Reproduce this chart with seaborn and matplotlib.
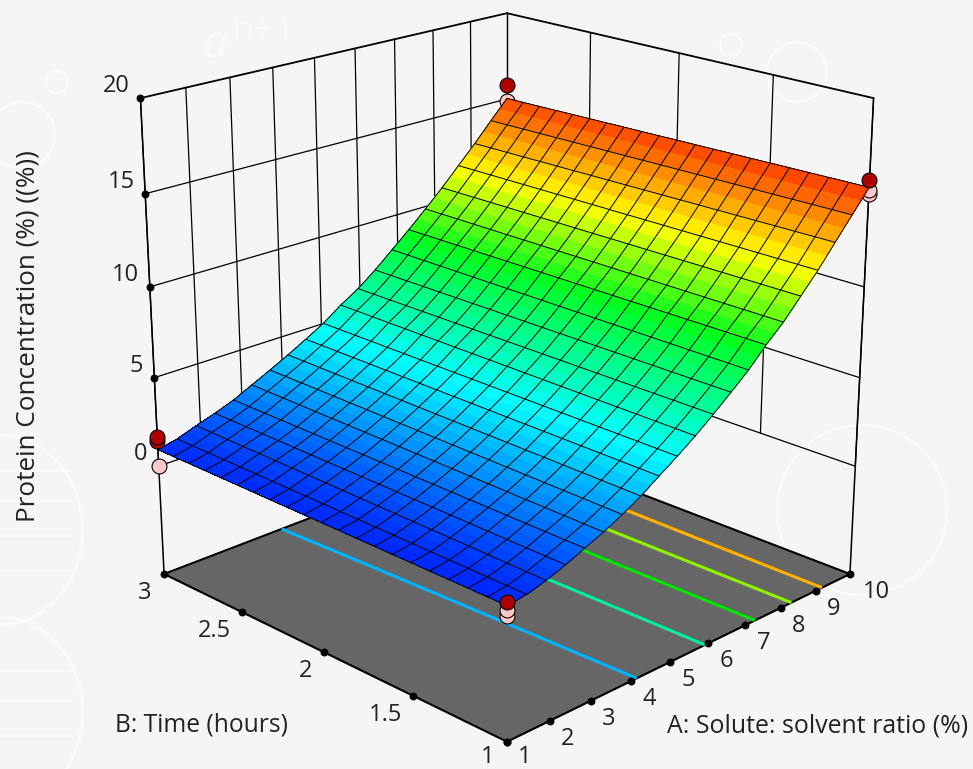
import numpy as np
import matplotlib
matplotlib.use("Agg")
import matplotlib.pyplot as plt
import seaborn as sns
from matplotlib.colors import LinearSegmentedColormap
from matplotlib.patches import Circle, Ellipse
from mpl_toolkits.mplot3d import proj3d

# surface heights read along the two long edges, one value per half mesh cell
z_b1 = [0.83, 0.88, 0.96, 1.09, 1.24, 1.42, 1.61, 1.82, 2.04, 2.25, 2.46, 2.70, 2.96, 3.23,
        3.52, 3.84, 4.17, 4.49, 4.82, 5.16, 5.51, 5.88, 6.27, 6.66, 7.07, 7.47, 7.89, 8.37,
        8.87, 9.30, 9.74, 10.26, 10.79, 11.31, 11.84, 12.42, 13.01, 13.59, 14.17, 14.75, 15.34]
z_b3 = [0.95, 1.06, 1.18, 1.37, 1.56, 1.73, 1.90, 2.10, 2.30, 2.55, 2.81, 3.06, 3.32, 3.58,
        3.85, 4.13, 4.42, 4.71, 5.01, 5.37, 5.75, 6.06, 6.39, 6.77, 7.17, 7.60, 8.05, 8.48,
        8.93, 9.39, 9.86, 10.33, 10.82, 11.33, 11.85, 12.36, 12.88, 13.42, 13.97, 14.50, 15.03]

a_ticks = [1, 2, 3, 4, 5, 6, 7, 8, 9, 10]
b_ticks = [1, 1.5, 2, 2.5, 3]
b_labels = ['1', '1.5', '2', '2.5', '3']
z_ticks = [0, 5, 10, 15, 20]
z_floor = -6.26

contour_levels = [3.5, 6.2, 8.8, 11.0, 13.2]
contour_colors = ['#00b4ff', '#00f0a0', '#00e600', '#90f000', '#ffb000']

# design points: above the surface (red) and below it (pink)
red_a = [1, 1, 10, 10, 1]
red_b = [3, 3, 3, 1, 1]
red_z = [1.65, 1.43, 15.85, 15.7, 1.0]
pink_a = [1, 10, 10, 10, 1, 1]
pink_b = [3, 3, 1, 1, 1, 1]
pink_z = [0.0, 14.85, 15.2, 15.0, 0.6, 0.3]

sns.set_theme(style="white")
plt.rcParams['font.family'] = ['Open Sans', 'DejaVu Sans']
text_color = '#222222'
fs = 17

fig = plt.figure(figsize=(9.73, 7.69), dpi=100)
fig.patch.set_facecolor('#f5f5f5')

# faint white doodles of the slide background
bg = fig.add_axes([0, 0, 1, 1])
bg.set_xlim(0, 973)
bg.set_ylim(769, 0)
bg.axis('off')
for cx, cy, r in [(22, 135, 33), (57, 82, 11), (797, 72, 30), (731, 45, 11), (862, 510, 85)]:
    bg.add_patch(Circle((cx, cy), r, fill=False, ec='white', lw=2, alpha=0.55))
for cy in [530, 712]:
    bg.add_patch(Ellipse((0, cy), 165, 190, fill=False, ec='white', lw=2.5, alpha=0.55))
for y in [470, 500, 535, 570, 670, 700, 735]:
    bg.plot([0, 72], [y, y], color='white', lw=2, alpha=0.45)
bg.text(215, 45, 'a', color='white', fontsize=34, style='italic', ha='center', va='center', alpha=0.5)
bg.text(232, 32, 'n+1', color='white', fontsize=26, ha='left', va='center', alpha=0.5)

ax = fig.add_axes([(507 - 0.5135 * 846) / 973, (425 - 0.5135 * 846) / 769, 846 / 973, 846 / 769],
                  projection='3d')
ax.set_box_aspect((1, 1, 1.012), zoom=1)
ax.set_proj_type('persp', focal_length=0.58)
ax.view_init(elev=20.4, azim=-135)
ax.set_xlim(1, 10, view_margin=0)
ax.set_ylim(1, 3, view_margin=0)
ax.set_zlim(z_floor, 20, view_margin=0)
ax.set_axis_off()
ax.patch.set_alpha(0)
ax.computed_zorder = False

# wall grid
for z in z_ticks:
    lw = 1.3 if z == 20 else 0.9
    ax.plot([1, 10], [3, 3], [z, z], color='black', lw=lw, zorder=1)
    ax.plot([10, 10], [3, 1], [z, z], color='black', lw=lw, zorder=1)
for a in a_ticks:
    ax.plot([a, a], [3, 3], [z_ticks[0], z_ticks[-1]], color='black', lw=0.9, zorder=1)
for b in b_ticks:
    ax.plot([10, 10], [b, b], [z_ticks[0], z_ticks[-1]], color='black', lw=0.9, zorder=1)
ax.plot([1, 1], [3, 3], [z_floor, 20], color='black', lw=1.1, zorder=1)
ax.plot([10, 10], [1, 1], [z_floor, 20], color='black', lw=1.1, zorder=1)

# floor
fa, fb = np.meshgrid([1, 10], [1, 3])
ax.plot_surface(fa, fb, np.full(fa.shape, z_floor), color='#666666', shade=False, linewidth=0, zorder=2)
for xs, ys in [([1, 10], [1, 1]), ([1, 1], [1, 3]), ([1, 10], [3, 3]), ([10, 10], [1, 3])]:
    ax.plot(xs, ys, [z_floor, z_floor], color='black', lw=1.5, zorder=3)

# mesh
a_mesh = np.linspace(1, 10, len(z_b1))
b_mesh = np.linspace(1, 3, 21)
A, B = np.meshgrid(a_mesh, b_mesh)
Z = np.array(z_b1) + np.outer((b_mesh - 1) / 2, np.array(z_b3) - np.array(z_b1))

ax.contour(A, B, Z, levels=contour_levels, colors=contour_colors, linewidths=2.2,
           zdir='z', offset=z_floor, zorder=4)

cmap = LinearSegmentedColormap.from_list('design', [(0, '#0028ff'), (0.27, '#00ffff'), (0.55, '#00ff20'),
                                                    (0.77, '#ffff00'), (1, '#ff4800')])
mid = (Z[:-1, :-1] + Z[1:, 1:]) / 2
face = cmap((mid - mid.min()) / (mid.max() - mid.min()))

ax.scatter(pink_a, pink_b, pink_z, s=115, c='#ffc8c8', edgecolors='black', linewidths=0.8,
           depthshade=False, zorder=5)
ax.plot_surface(A, B, Z, facecolors=face, rstride=1, cstride=1, shade=False, linewidth=0.25,
                edgecolor='none', antialiased=False, zorder=6)
ax.plot_wireframe(A, B, Z, rstride=1, cstride=2, color='black', linewidth=0.7, zorder=7)
ax.scatter(red_a, red_b, red_z, s=115, c='#b00000', edgecolors='black', linewidths=0.8,
           depthshade=False, zorder=8)

# tick dots
ax.scatter(a_ticks, [1] * len(a_ticks), [z_floor] * len(a_ticks), s=22, c='black', depthshade=False, zorder=4)
ax.scatter([1] * len(b_ticks), b_ticks, [z_floor] * len(b_ticks), s=22, c='black', depthshade=False, zorder=4)
ax.scatter([1] * len(z_ticks), [3] * len(z_ticks), z_ticks, s=22, c='black', depthshade=False, zorder=4)

M = ax.get_proj()


def tick_label(x, y, z, text, dx, dy):
    px, py, _ = proj3d.proj_transform(x, y, z, M)
    ax.annotate(text, (px, py), xytext=(dx, dy), textcoords='offset pixels', ha='center', va='center',
                fontsize=fs, color=text_color, annotation_clip=False)


for a in a_ticks:
    tick_label(a, 1, z_floor, str(a), 26 if a == 10 else 18, -15 if a == 1 else -18)
for b, lab in zip(b_ticks, b_labels):
    tick_label(1, b, z_floor, lab, -27 if '.' in lab else -19, -15 if b == 1 else -19)
for z in z_ticks:
    tick_label(1, 3, z, str(z), -24 if z > 5 else -18, 12)

fig.text(201 / 973, 1 - 725 / 769, 'B: Time (hours)', ha='center', va='center', fontsize=17.7, color=text_color)
fig.text(818 / 973, 1 - 726 / 769, 'A: Solute: solvent ratio (%)', ha='center', va='center', fontsize=17.9, color=text_color)
fig.text(28 / 973, 1 - 336 / 769, 'Protein Concentration (%) ((%))', rotation=90, ha='center', va='center',
         fontsize=18.8, color=text_color)

fig.savefig('out.png', dpi=100, facecolor=fig.get_facecolor())
